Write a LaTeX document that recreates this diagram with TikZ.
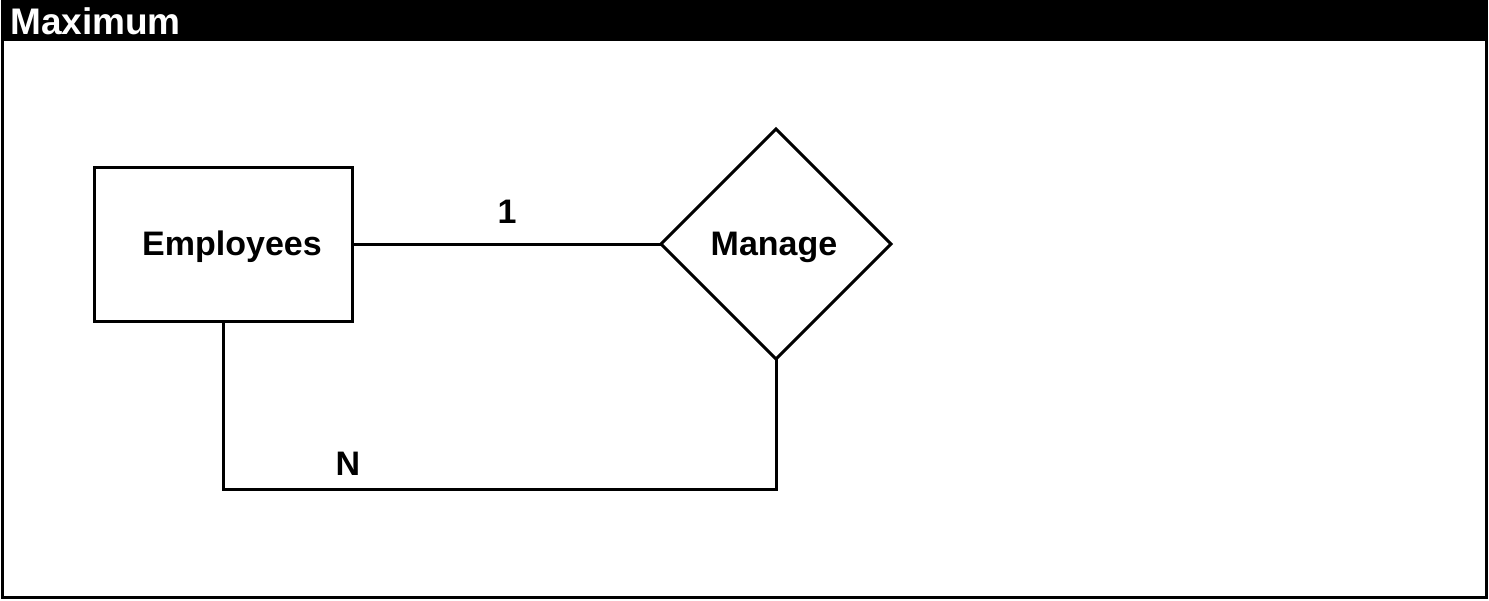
\documentclass[tikz,border=0pt]{standalone}
\usepackage{fontspec}
\setmainfont{Liberation Sans}
\usetikzlibrary{shapes.geometric}
\begin{document}
\begin{tikzpicture}[x=1pt,y=-1pt,
  conn/.style={line width=3pt},
  lbl/.style={font=\bfseries\fontsize{34}{40}\selectfont, inner sep=0pt},
  entity/.style={draw, line width=3pt, minimum width=258pt, minimum height=154pt, inner sep=0pt, outer sep=0pt},
  relation/.style={draw, line width=3pt, diamond, shape aspect=1, minimum size=230pt, inner sep=0pt, outer sep=0pt}]
  \useasboundingbox (0,0) rectangle (1489,600);
  % frame and title bar
  \fill[black] (1,0) rectangle (1488,41);
  \draw[line width=3pt] (2.5,1) rectangle (1486.5,597.5);
  \node[anchor=base west, text=white, inner sep=0pt, font=\bfseries\fontsize{37}{44}\selectfont] (title) at (10,34) {Maximum};
  % entity and relationship
  \node[entity, label={[lbl, xshift=9pt, yshift=-3pt]center:Employees}] (emp) at (223,244) {};
  \node[relation, label={[lbl, xshift=-2pt, yshift=-3pt]center:Manage}] (man) at (776,244) {};
  % connectors
  \coordinate (nb) at (776,489);
  \draw[conn] (emp.east) -- (man.west);
  \draw[conn] (emp.south) |- (nb) -- (man.south);
  % cardinalities
  \node[lbl] (one) at (507,212) {1};
  \node[lbl] (many) at (348,464) {N};
\end{tikzpicture}
\end{document}
